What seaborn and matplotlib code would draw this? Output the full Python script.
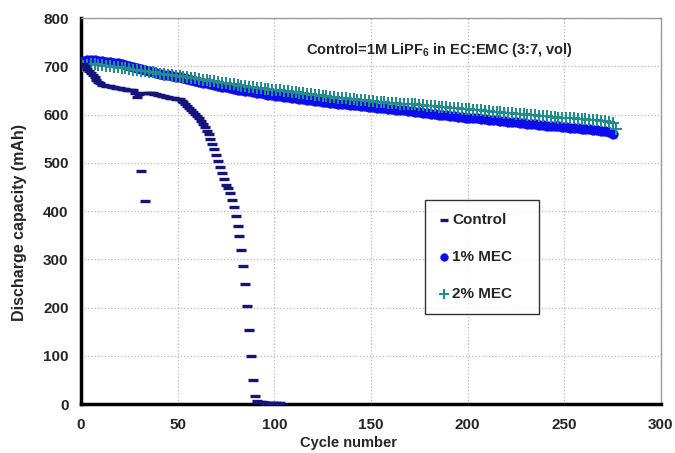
import numpy as np
import pandas as pd
import matplotlib
matplotlib.use('Agg')
import matplotlib.pyplot as plt
import seaborn as sns

# ------------------------
# Data
# ------------------------
control_cycle = list(range(1, 104))
control_cap = [
    705, 700, 695, 690, 686, 682, 677, 672, 668, 665,
    662, 661, 660, 659, 659, 658, 657, 656, 655, 655,
    654, 653, 653, 652, 652, 651, 650, 645, 636, 643,
    483, 645, 420, 645, 645, 644, 644, 643, 642, 641,
    640, 639, 638, 637, 636, 635, 634, 634, 633, 633,
    632, 629, 626, 622, 618, 614, 610, 606, 601, 597,
    592, 586, 580, 574, 567, 559, 550, 540, 528, 516,
    504, 491, 478, 466, 454, 447, 438, 423, 408, 390,
    370, 348, 320, 286, 249, 203, 154, 99, 50, 17,
    7, 5, 4, 4, 3, 3, 3, 3, 3, 3,
    3, 3, 3,
]

mec1_cycle = list(range(1, 276, 2))
mec1_cap = [
    712, 714, 714, 713, 712, 711, 710, 709, 708, 706,
    704, 703, 701, 699, 697, 695, 693, 691, 689, 687,
    685, 683, 682, 680, 678, 677, 675, 673, 671, 670,
    668, 666, 665, 663, 661, 660, 658, 657, 655, 653,
    652, 650, 649, 648, 646, 645, 644, 643, 641, 640,
    639, 638, 637, 636, 635, 634, 633, 632, 631, 630,
    629, 628, 627, 626, 625, 624, 623, 622, 621, 620,
    619, 619, 618, 617, 616, 615, 614, 614, 613, 612,
    611, 610, 610, 609, 608, 607, 606, 605, 604, 603,
    602, 601, 600, 600, 599, 598, 597, 596, 595, 594,
    593, 593, 592, 591, 590, 589, 588, 588, 587, 586,
    585, 584, 584, 583, 582, 581, 580, 580, 579, 578,
    577, 577, 576, 576, 575, 574, 573, 573, 572, 571,
    570, 570, 569, 568, 567, 565, 563, 560,
]

mec2_cycle = list(range(1, 278, 2))
mec2_cap = [
    700, 703, 704, 704, 703, 702, 701, 700, 699, 698,
    697, 696, 694, 693, 692, 691, 690, 689, 688, 687,
    685, 684, 683, 682, 681, 679, 678, 677, 676, 675,
    673, 672, 671, 670, 669, 667, 666, 665, 664, 663,
    661, 660, 659, 658, 657, 656, 655, 654, 653, 652,
    651, 650, 649, 648, 647, 646, 645, 644, 643, 642,
    641, 640, 639, 638, 637, 636, 635, 634, 634, 633,
    632, 631, 630, 630, 629, 628, 627, 627, 626, 625,
    625, 624, 623, 623, 622, 621, 621, 620, 619, 618,
    618, 617, 616, 616, 615, 614, 614, 613, 612, 611,
    611, 610, 609, 609, 608, 607, 606, 606, 605, 604,
    604, 603, 602, 602, 601, 600, 599, 599, 598, 597,
    597, 596, 595, 594, 594, 593, 592, 592, 591, 590,
    590, 589, 588, 588, 587, 586, 585, 583, 570,
]

x_ticks = [0, 50, 100, 150, 200, 250, 300]
y_ticks = [0, 100, 200, 300, 400, 500, 600, 700, 800]

# ------------------------
# Style
# ------------------------
sns.set_style('white')
plt.rcParams['font.family'] = ['Liberation Sans', 'DejaVu Sans']
plt.rcParams['mathtext.fontset'] = 'custom'
plt.rcParams['mathtext.rm'] = 'Liberation Sans:bold'
plt.rcParams['mathtext.it'] = 'Liberation Sans:bold'

fig = plt.figure(figsize=(6.75, 4.53), dpi=100)
ax = fig.add_axes([0.12, 0.108, 0.859, 0.852])

df_ctrl = pd.DataFrame({'cycle': control_cycle, 'cap': control_cap})
df_m1 = pd.DataFrame({'cycle': mec1_cycle, 'cap': mec1_cap})
df_m2 = pd.DataFrame({'cycle': mec2_cycle, 'cap': mec2_cap})

sns.scatterplot(data=df_ctrl, x='cycle', y='cap', ax=ax, marker='_', s=45,
                color='#14147a', linewidth=2.4, label='Control', zorder=5)
sns.scatterplot(data=df_m1, x='cycle', y='cap', ax=ax, marker='o', s=50,
                color='#0c0cec', edgecolor='#0c0cec', linewidth=0.3,
                label='1% MEC', zorder=3)
sns.scatterplot(data=df_m2, x='cycle', y='cap', ax=ax, marker='+', s=85,
                color='#248c8c', linewidth=1.5, label='2% MEC', zorder=4)

ax.set_xlim(0, 300)
ax.set_ylim(0, 800)
ax.set_xticks(x_ticks)
ax.set_yticks(y_ticks)
ax.grid(True, color='#b8b8b8', linestyle=':', linewidth=0.9)
ax.set_axisbelow(True)

for side in ['left', 'bottom']:
    ax.spines[side].set_color('black')
    ax.spines[side].set_linewidth(2.5)
for side in ['top', 'right']:
    ax.spines[side].set_color('#9a9a9a')
    ax.spines[side].set_linewidth(1.0)

ax.tick_params(axis='both', direction='in', length=3, width=2, labelsize=11)
ax.tick_params(axis='x', pad=10)
ax.tick_params(axis='y', pad=9)
for lbl in ax.get_xticklabels() + ax.get_yticklabels():
    lbl.set_fontweight('bold')

ax.set_xlabel('Cycle number', fontsize=10.5, fontweight='bold')
ax.set_ylabel('Discharge capacity (mAh)', fontsize=11.5, fontweight='bold')
ax.xaxis.set_label_coords(0.462, -0.083)
ax.yaxis.set_label_coords(-0.093, 0.47)

ax.text(185.5, 734, r'Control=1M LiPF$_6$ in EC:EMC (3:7, vol)',
        ha='center', va='center', fontsize=10.5, fontweight='bold')

# legend box spans roughly cycles 178-237 and 300-538 mAh
leg = ax.legend(loc='upper left', bbox_to_anchor=(0.593, 0.231, 0.197, 0.297),
                mode='expand', frameon=True, fancybox=False, edgecolor='black',
                labelspacing=1.5, handletextpad=0.15, handlelength=0.8,
                borderpad=0.85, borderaxespad=0, markerscale=0.8,
                prop={'weight': 'bold', 'size': 11})
leg.get_frame().set_linewidth(1.0)

fig.savefig('out.png', dpi=100)
